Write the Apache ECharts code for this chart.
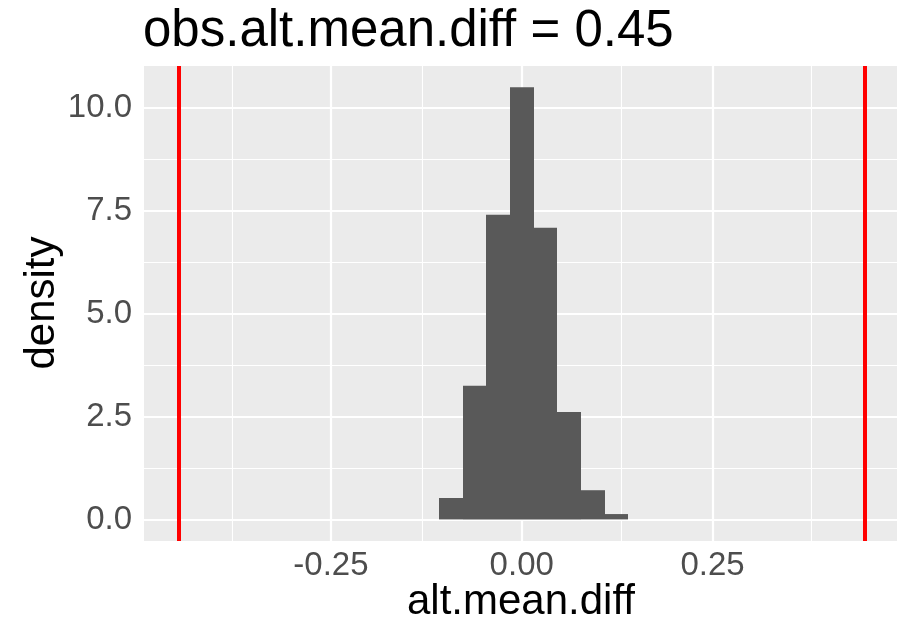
<!DOCTYPE html>
<html>
<head>
<meta charset="utf-8">
<script src="https://cdn.jsdelivr.net/npm/echarts@6/dist/echarts.min.js"></script>
<style>html,body{margin:0;padding:0;background:#fff;}#c{width:897px;height:622px;}</style>
</head>
<body>
<div id="c"></div>
<script>
// Histogram bins (density)
var binStart = [-0.1086, -0.0776, -0.0466, -0.0155, 0.0155, 0.0466, 0.0776, 0.1086];
var binEnd   = [-0.0776, -0.0466, -0.0155, 0.0155, 0.0466, 0.0776, 0.1086, 0.1397];
var density  = [0.52, 3.25, 7.41, 10.51, 7.09, 2.61, 0.71, 0.13];
// Observed difference lines
var vlines = [-0.45, 0.45];
// Ticks / gridlines
var xTicks = [-0.25, 0, 0.25];
var xMinor = [-0.375, -0.125, 0.125, 0.375];
var yTicks = [0, 2.5, 5, 7.5, 10];
var yMinor = [1.25, 3.75, 6.25, 8.75];
var titleText = 'obs.alt.mean.diff = 0.45';
var xTitle = 'alt.mean.diff';
var yTitle = 'density';

var FONT = '"Liberation Sans", Arial, Helvetica, sans-serif';
var chart = echarts.init(document.getElementById('c'), null, {renderer: 'canvas'});

var barData = binStart.map(function (s, i) { return [s, binEnd[i], density[i]]; });

var gridLines = [];
xMinor.forEach(function (v) { gridLines.push({xAxis: v, lineStyle: {color: '#ffffff', width: 1.1, type: 'solid'}}); });
yMinor.forEach(function (v) { gridLines.push({yAxis: v, lineStyle: {color: '#ffffff', width: 1.1, type: 'solid'}}); });
xTicks.forEach(function (v) { gridLines.push({xAxis: v, lineStyle: {color: '#ffffff', width: 2.2, type: 'solid'}}); });
yTicks.forEach(function (v) { gridLines.push({yAxis: v, lineStyle: {color: '#ffffff', width: 2.2, type: 'solid'}}); });

var option = {
  animation: false,
  backgroundColor: '#ffffff',
  grid: {
    left: 144, right: 0, top: 66, bottom: 81,
    containLabel: false, outerBoundsMode: 'none',
    show: true, backgroundColor: '#EBEBEB', borderWidth: 0
  },
  xAxis: {
    type: 'value', min: -0.495, max: 0.4918,
    axisLine: {show: false},
    splitLine: {show: false},
    axisTick: {show: true, customValues: xTicks, length: 6, lineStyle: {color: '#333333', width: 1.5}},
    axisLabel: {
      show: true, customValues: xTicks, margin: 8,
      fontSize: 33, fontFamily: FONT, color: '#4D4D4D',
      formatter: function (v) { return (Math.abs(v) < 1e-9 ? 0 : v).toFixed(2); }
    }
  },
  yAxis: {
    type: 'value', min: -0.525, max: 11.025,
    axisLine: {show: false},
    splitLine: {show: false},
    axisTick: {show: true, customValues: yTicks, length: 6, lineStyle: {color: '#333333', width: 1.5}},
    axisLabel: {
      show: true, customValues: yTicks, margin: 12,
      fontSize: 33, fontFamily: FONT, color: '#4D4D4D',
      formatter: function (v) { return v.toFixed(1); }
    }
  },
  graphic: [
    {type: 'text', left: 143, top: 6, silent: true,
     style: {text: titleText, font: '51px ' + FONT, fill: '#000000'}},
    {type: 'text', x: 521, y: 602, silent: true,
     style: {text: xTitle, font: '42px ' + FONT, fill: '#000000', align: 'center', verticalAlign: 'middle'}},
    {type: 'text', x: 42, y: 303, rotation: Math.PI / 2, silent: true,
     style: {text: yTitle, font: '42px ' + FONT, fill: '#000000', align: 'center', verticalAlign: 'middle'}}
  ],
  series: [
    {
      type: 'line', data: [], z: 1, silent: true,
      markLine: {z: 1, silent: true, symbol: ['none', 'none'], label: {show: false}, animation: false, data: gridLines}
    },
    {
      type: 'custom', z: 3, silent: true, clip: true,
      data: barData,
      renderItem: function (params, api) {
        var p0 = api.coord([api.value(0), api.value(2)]);
        var p1 = api.coord([api.value(1), 0]);
        var x0 = Math.round(p0[0]), x1 = Math.round(p1[0]);
        return {
          type: 'rect',
          shape: {x: x0, y: p0[1], width: x1 - x0, height: p1[1] - p0[1]},
          style: {fill: '#595959'}
        };
      },
      encode: {x: [0, 1], y: 2}
    },
    {
      type: 'line', data: [], z: 8, silent: true,
      markLine: {
        z: 8, silent: true, symbol: ['none', 'none'], label: {show: false}, animation: false,
        data: vlines.map(function (v) { return {xAxis: v, lineStyle: {color: '#FF0000', width: 4, type: 'solid'}}; })
      }
    }
  ]
};
chart.setOption(option);
</script>
</body>
</html>
